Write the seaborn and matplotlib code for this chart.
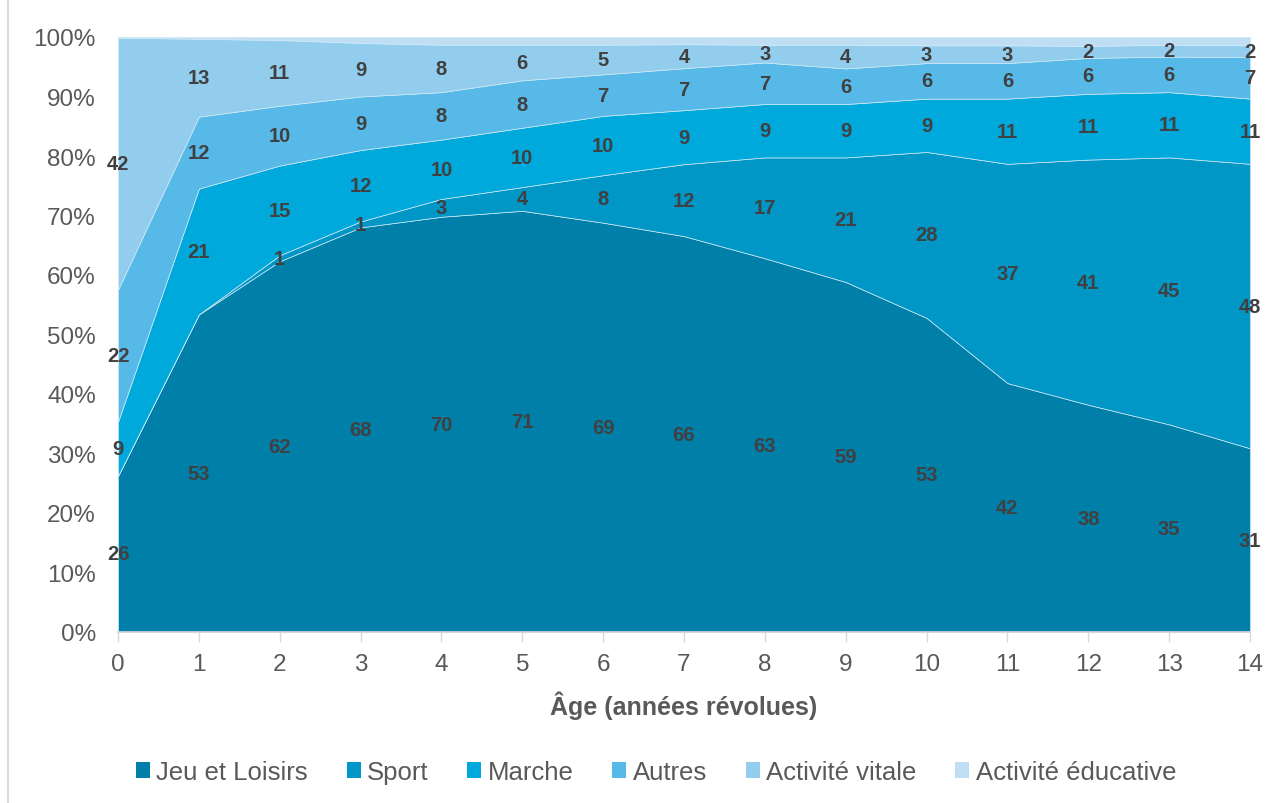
import numpy as np
import pandas as pd
import matplotlib
matplotlib.use("Agg")
import matplotlib.pyplot as plt
from matplotlib.patches import Patch, Rectangle
import seaborn as sns

ages = list(range(15))
jeu = [26, 53, 62, 68, 70, 71, 69, 66, 63, 59, 53, 42, 38, 35, 31]
sport = [0, 0, 1, 1, 3, 4, 8, 12, 17, 21, 28, 37, 41, 45, 48]
marche = [9, 21, 15, 12, 10, 10, 10, 9, 9, 9, 9, 11, 11, 11, 11]
autres = [22, 12, 10, 9, 8, 8, 7, 7, 7, 6, 6, 6, 6, 6, 7]
vitale = [42, 13, 11, 9, 8, 6, 5, 4, 3, 4, 3, 3, 2, 2, 2]
educ = [0.1, 0.3, 0.5, 1.0, 1.3, 1.3, 1.3, 1.2, 1.3, 1.3, 1.4, 1.4, 1.5, 1.3, 1.4]

names = ["Jeu et Loisirs", "Sport", "Marche", "Autres", "Activité vitale", "Activité éducative"]
colors = ["#0080A8", "#0096C6", "#00A9DB", "#57B9E8", "#93CDEE", "#BFDEF3"]
series = [jeu, sport, marche, autres, vitale, educ]

df = pd.DataFrame({n: s for n, s in zip(names, series)}, index=ages, dtype=float)
# 100 % stacked: each age is rescaled to its own total
shares = df.div(df.sum(axis=1), axis=0) * 100

sns.set_theme(style="white")
plt.rcParams["font.family"] = ["Liberation Sans", "DejaVu Sans"]

fig = plt.figure(figsize=(12.84, 8.04), dpi=100)
ax = fig.add_axes([118 / 1284, 1 - 633 / 804, 1132 / 1284, 595 / 804])

ax.stackplot(shares.index, *[shares[c].values for c in names], colors=colors,
             edgecolor="#cfe9f6", linewidth=0.5)

# value labels at the centre of each band (first five series)
bottom = np.zeros(len(ages))
for name in names:
    vals = shares[name].values
    raw = df[name].values
    if name != "Activité éducative":
        for x, b, v, r in zip(ages, bottom, vals, raw):
            if r > 0:
                ax.text(x, b + v / 2, f"{int(r)}", ha="center", va="center",
                        fontsize=14.5, fontweight="bold", color="#404040")
    bottom += vals

ax.set_xlim(0, 14)
ax.set_ylim(0, 100)
ax.set_xticks(ages)
ax.set_yticks(range(0, 101, 10))
ax.set_yticklabels([f"{v}%" for v in range(0, 101, 10)])
ax.tick_params(axis="x", length=7, width=1, color="#D9D9D9", labelcolor="#595959",
               labelsize=17.5, pad=8, direction="out", bottom=True)
ax.tick_params(axis="y", length=0, labelsize=17.5, labelcolor="#595959", pad=16)
for s in ["top", "right", "left"]:
    ax.spines[s].set_visible(False)
ax.spines["bottom"].set_color("#D9D9D9")
ax.spines["bottom"].set_linewidth(1.2)
ax.set_xlabel("Âge (années révolues)", fontsize=18, fontweight="bold",
              color="#595959", labelpad=11)

handles = [Patch(facecolor=c, edgecolor="none") for c in colors]
fig.legend(handles, names, loc="center", bbox_to_anchor=(656 / 1284, 1 - 773 / 804),
           ncol=6, frameon=False, fontsize=18.5, handlelength=0.55, handleheight=0.55,
           handletextpad=0.25, columnspacing=1.5, labelcolor="#595959")

# chart frame
fig.patches.append(Rectangle((8 / 1284, -0.01), 1.1, 1.1, transform=fig.transFigure,
                             fill=False, edgecolor="#D9D9D9", linewidth=1.5))

fig.savefig("out.png", dpi=100)
